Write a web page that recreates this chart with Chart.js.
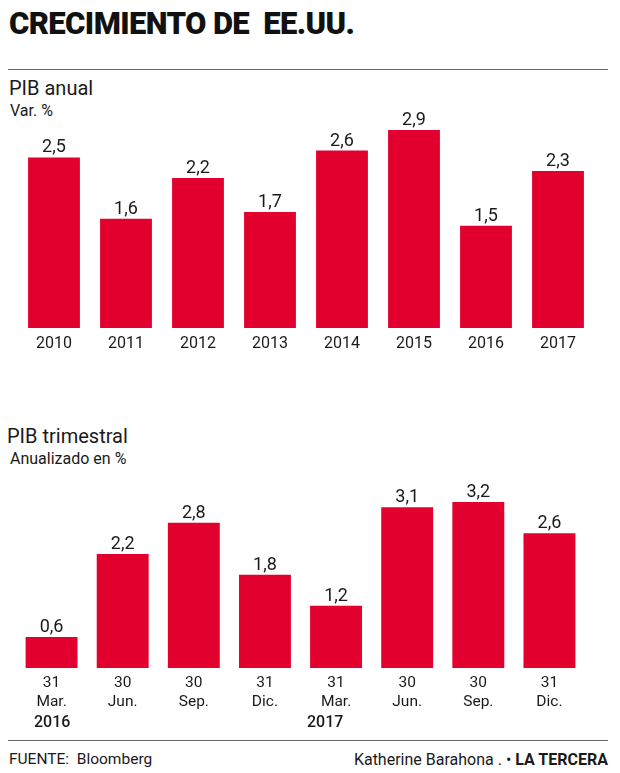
<!DOCTYPE html>
<html>
<head>
<meta charset="utf-8">
<script src="https://cdn.jsdelivr.net/npm/chart.js@4"></script>
<style>
  body { margin: 0; background: #fff; }
  #page { position: relative; width: 620px; height: 773px; font-family: Roboto, "Liberation Sans", sans-serif; color: #1a1a1a; }
  .t { position: absolute; white-space: nowrap; }
  #titulo { left: 9px; top: 5px; font-size: 31px; font-weight: 900; letter-spacing: -0.6px; color: #111; }
  .linea { position: absolute; left: 8px; width: 600px; height: 1px; background: #666; }
  .sub { font-size: 20px; }
  .nota { font-size: 16px; }
  .pie { font-size: 15.5px; }
  canvas { position: absolute; left: 0; }
</style>
</head>
<body>
<div id="page">
  <div class="t" id="titulo">CRECIMIENTO DE&nbsp; EE.UU.</div>
  <div class="linea" style="top:69px"></div>

  <div class="t sub" style="left:9px; top:76px">PIB anual</div>
  <div class="t nota" style="left:10px; top:101px">Var. %</div>
  <div style="position:absolute; left:0; top:90px; width:620px; height:268px"><canvas id="graficoAnual"></canvas></div>

  <div class="t sub" style="left:7px; top:424px">PIB trimestral</div>
  <div class="t nota" style="left:10px; top:449px">Anualizado en %</div>
  <div style="position:absolute; left:0; top:465px; width:620px; height:248px"><canvas id="graficoTrimestral"></canvas></div>

  <div class="t" style="left:34px; top:712px; font-size:16px; font-weight:500">2016</div>
  <div class="t" style="left:307px; top:712px; font-size:16px; font-weight:500">2017</div>

  <div class="linea" style="top:740px"></div>
  <div class="t pie" style="left:9px; top:750px">FUENTE:&nbsp; Bloomberg</div>
  <div class="t pie" style="right:12px; top:750px; font-size:16px">Katherine Barahona . &bull; <b>LA TERCERA</b></div>
</div>

<script>
// datos
const anos = ['2010', '2011', '2012', '2013', '2014', '2015', '2016', '2017']
const pibAnual = [2.5, 1.6, 2.2, 1.7, 2.6, 2.9, 1.5, 2.3]

const trimestres = [['31', 'Mar.'], ['30', 'Jun.'], ['30', 'Sep.'], ['31', 'Dic.'], ['31', 'Mar.'], ['30', 'Jun.'], ['30', 'Sep.'], ['31', 'Dic.']]
const pibTrimestral = [0.6, 2.2, 2.8, 1.8, 1.2, 3.1, 3.2, 2.6]

const rojo = '#e2002f'

// etiquetas de valor encima de las barras
const etiquetas = {
    id: 'etiquetas',
    afterDatasetsDraw(chart){
        const ctx = chart.ctx
        const meta = chart.getDatasetMeta(0)
        ctx.save()
        ctx.font = '18px Roboto'
        ctx.fillStyle = '#1a1a1a'
        ctx.textAlign = 'center'
        ctx.textBaseline = 'alphabetic'
        meta.data.forEach(function(barra, i){
            const v = chart.data.datasets[0].data[i]
            ctx.fillText(v.toFixed(1).replace('.', ','), barra.x, barra.y - 5)
        })
        ctx.restore()
    }
}

function crearGrafico(id, labels, datos, maximo, ancho, padding, altoEje, tamano){
    return new Chart(document.getElementById(id), {
        type: 'bar',
        data: {
            labels: labels,
            datasets: [{
                data: datos,
                backgroundColor: rojo,
                barPercentage: ancho,
                categoryPercentage: 1
            }]
        },
        options: {
            responsive: true,
            maintainAspectRatio: false,
            animation: false,
            layout: { padding: padding },
            plugins: { legend: { display: false }, tooltip: { enabled: false } },
            scales: {
                y: { display: false, min: 0, max: maximo },
                x: {
                    grid: { display: false },
                    border: { display: false },
                    ticks: { color: '#1a1a1a', font: { family: 'Roboto', size: tamano, lineHeight: 1.2 }, padding: -2, maxRotation: 0 },
                    afterFit(scale){ scale.height = altoEje }
                }
            }
        },
        plugins: [etiquetas]
    })
}

crearGrafico('graficoAnual', anos, pibAnual, 3.4, 0.72, { left: 18, right: 26, top: 6, bottom: 0 }, 30, 16)
crearGrafico('graficoTrimestral', trimestres, pibTrimestral, 3.8, 0.73, { left: 16, right: 35, top: 6, bottom: 0 }, 45, 15.5)
</script>
</body>
</html>
